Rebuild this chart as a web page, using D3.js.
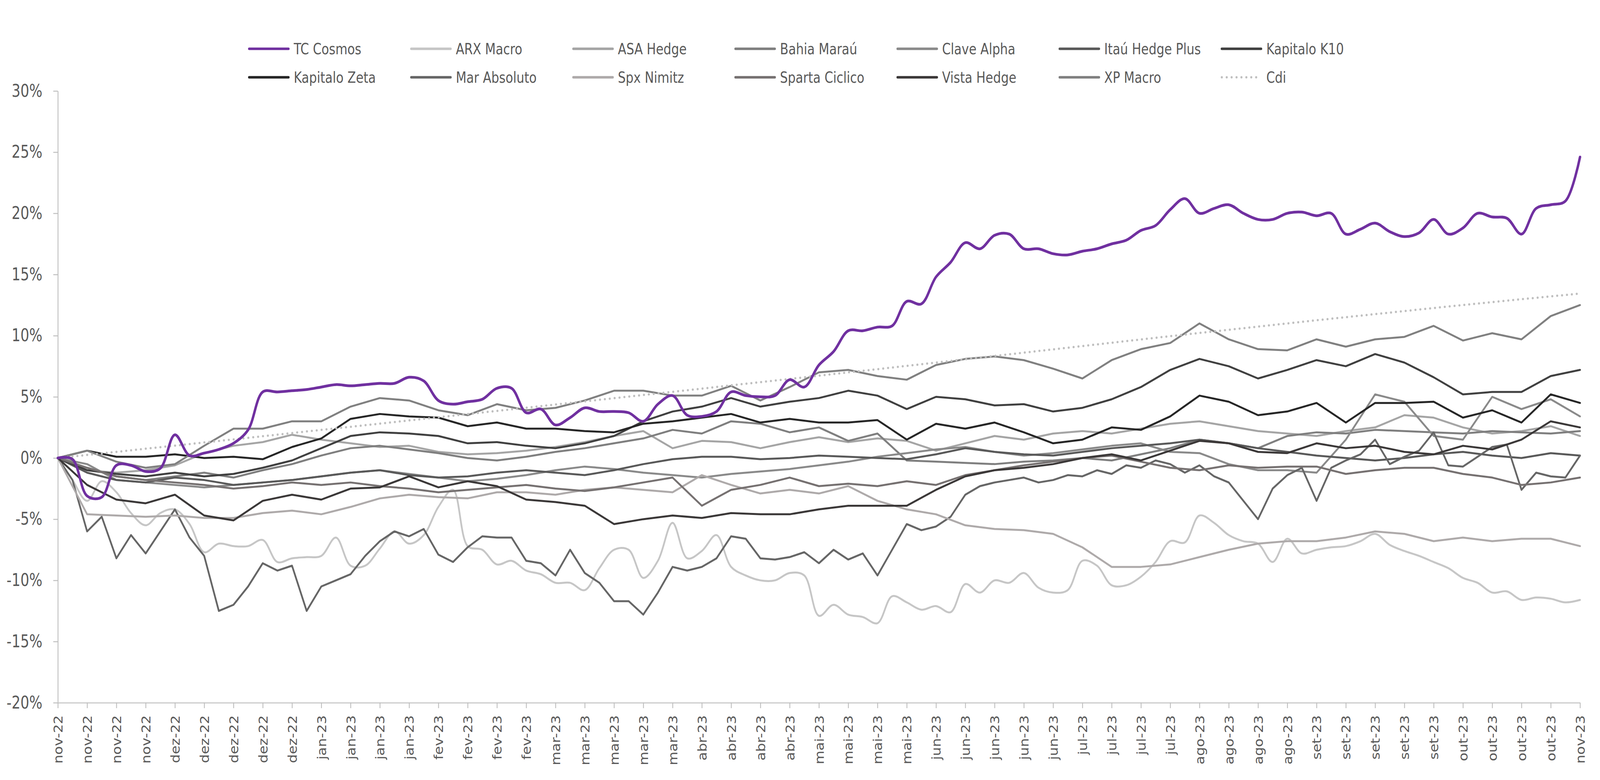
<!DOCTYPE html>
<html>
<head>
<meta charset="utf-8">
<script src="https://cdnjs.cloudflare.com/ajax/libs/d3/7.8.5/d3.min.js"></script>
<style>
  html, body { margin: 0; padding: 0; background: #fff; overflow: hidden; }
  #chart svg { display: block; width: 100vw; height: 100vh; }
</style>
</head>
<body>
<div id="chart"></div>
<script>
// weekly tick labels (category positions 0..52)
const tickLabels = [
  "nov-22","nov-22","nov-22","nov-22",
  "dez-22","dez-22","dez-22","dez-22","dez-22",
  "jan-23","jan-23","jan-23","jan-23",
  "fev-23","fev-23","fev-23","fev-23",
  "mar-23","mar-23","mar-23","mar-23","mar-23",
  "abr-23","abr-23","abr-23","abr-23",
  "mai-23","mai-23","mai-23","mai-23",
  "jun-23","jun-23","jun-23","jun-23","jun-23",
  "jul-23","jul-23","jul-23","jul-23",
  "ago-23","ago-23","ago-23","ago-23",
  "set-23","set-23","set-23","set-23","set-23",
  "out-23","out-23","out-23","out-23",
  "nov-23"
];

const yTicks = [-20, -15, -10, -5, 0, 5, 10, 15, 20, 25, 30];

// read every half week
const tcCosmos = [
  0, -0.1, -3.1, -3.2, -0.6, -0.6, -1.1, -0.85, 1.9, 0.2,
  0.4, 0.7, 1.2, 2.3, 5.4, 5.4, 5.5, 5.6, 5.8, 6.0,
  5.9, 6.0, 6.1, 6.1, 6.6, 6.3, 4.7, 4.4, 4.6, 4.8,
  5.7, 5.7, 3.7, 4.0, 2.7, 3.3, 4.1, 3.8, 3.8, 3.7,
  3.0, 4.4, 5.1, 3.5, 3.4, 3.8, 5.4, 5.1, 5.0, 5.1,
  6.4, 5.8, 7.6, 8.7, 10.4, 10.4, 10.7, 10.8, 12.8, 12.6,
  14.8, 16.0, 17.6, 17.1, 18.2, 18.3, 17.1, 17.1, 16.7, 16.6,
  16.9, 17.1, 17.5, 17.8, 18.6, 19.0, 20.3, 21.2, 20.0, 20.4,
  20.7, 20.0, 19.5, 19.5, 20.0, 20.1, 19.8, 20.0, 18.3, 18.7,
  19.2, 18.5, 18.1, 18.4, 19.5, 18.3, 18.8, 20.0, 19.7, 19.6,
  18.3, 20.4, 20.7, 21.0, 24.6
];
const arxMacro = [
  0, -1.8, -3.5, -1.9, -2.8, -4.5, -5.5, -4.5, -4.2, -5.4,
  -7.7, -7.0, -7.2, -7.2, -6.7, -8.5, -8.2, -8.1, -8.0, -6.5,
  -8.8, -8.8, -7.4, -6.0, -7.0, -6.3, -4.0, -2.6, -7.2, -7.5,
  -8.7, -8.4, -9.2, -9.5, -10.2, -10.2, -10.8, -9.0, -7.5, -7.5,
  -9.8, -8.4, -5.3, -8.2, -7.6, -6.3, -8.9, -9.6, -10.0, -10.0,
  -9.4, -9.6, -12.9, -12.0, -12.8, -13.0, -13.5, -11.3, -11.8, -12.4,
  -12.1, -12.6, -10.3, -11.0, -10.0, -10.2, -9.4, -10.6, -11.0, -10.8,
  -8.4, -8.8, -10.4, -10.4, -9.7, -8.5, -6.8, -6.9, -4.7, -5.3,
  -6.3, -6.8, -7.0, -8.5, -6.6, -7.8, -7.5, -7.3, -7.2, -6.8,
  -6.2, -7.1, -7.6, -8.0, -8.5, -9.0, -9.8, -10.2, -11.0, -10.9,
  -11.6, -11.4, -11.5, -11.8, -11.6
];
const marAbsoluto = [
  0, -1.8, -6.0, -4.8, -8.2, -6.3, -7.8, -6.0, -4.2, -6.5,
  -8.0, -12.5, -12.0, -10.5, -8.6, -9.2, -8.8, -12.5, -10.5, -10.0,
  -9.5, -8.0, -6.8, -6.0, -6.4, -5.8, -7.9, -8.5, -7.3, -6.4,
  -6.5, -6.5, -8.4, -8.6, -9.6, -7.5, -9.4, -10.2, -11.7, -11.7,
  -12.8, -11.0, -8.9, -9.2, -8.9, -8.2, -6.4, -6.6, -8.2, -8.3,
  -8.1, -7.7, -8.6, -7.5, -8.3, -7.8, -9.6, -7.5, -5.4, -5.9,
  -5.6, -4.8, -3.0, -2.3, -2.0, -1.8, -1.6, -2.0, -1.8, -1.4,
  -1.5, -1.0, -1.3, -0.6, -0.8, -0.2, -0.5, -1.2, -0.6, -1.5,
  -2.0, -3.5, -5.0, -2.5, -1.4, -0.8, -3.5, -0.8, -0.2, 0.3,
  1.5, -0.5, 0.1, 0.6, 2.1, -0.6, -0.7, 0.1, 0.9, 1.1,
  -2.6, -1.2, -1.5, -1.6, 0.2
];

// read once a week
const asaHedge = [0,-1.0,-1.2,-1.0,-0.6,0.4,1.0,1.3,1.9,1.5,1.2,0.9,1.0,0.5,0.3,0.4,0.6,0.9,1.3,1.8,2.2,0.8,1.4,1.3,0.8,1.3,1.7,1.3,1.6,1.4,0.6,1.2,1.8,1.5,2.0,2.2,2.0,2.4,2.8,3.0,2.6,2.2,2.0,1.8,2.2,2.5,3.5,3.3,2.5,2.0,2.2,2.6,1.8];
const bahiaMarau = [0,-0.8,-1.5,-1.8,-1.5,-1.2,-1.6,-1.0,-0.5,0.2,0.8,1.0,0.7,0.4,0.0,-0.2,0.1,0.5,0.8,1.2,1.6,2.3,2.0,3.0,2.8,2.1,2.5,1.4,2.0,-0.2,-0.3,-0.4,-0.5,-0.3,-0.2,0.0,-0.2,0.3,0.8,1.5,1.2,0.8,1.8,2.1,2.0,2.3,2.2,2.1,2.0,2.2,2.1,2.0,2.2];
const claveAlpha = [0,-0.5,-1.8,-2.0,-2.2,-2.4,-2.2,-2.0,-1.8,-1.5,-1.2,-1.0,-1.3,-1.6,-1.9,-1.7,-1.4,-1.0,-0.7,-0.9,-1.2,-1.4,-1.6,-1.3,-1.1,-0.9,-0.6,-0.3,0.1,0.4,0.7,0.9,0.5,0.2,0.4,0.7,1.0,1.2,0.5,0.4,-0.5,-1.0,-1.0,-1.2,1.5,5.2,4.6,1.8,1.5,5.0,4.0,4.8,3.4];
const itauHedge = [0,-1.2,-1.8,-2.0,-1.6,-1.8,-2.2,-2.0,-1.8,-1.5,-1.2,-1.0,-1.4,-1.6,-1.5,-1.2,-1.0,-1.2,-1.4,-1.0,-0.5,-0.1,0.1,0.1,-0.1,0.0,0.2,0.1,0.0,-0.1,0.3,0.8,0.5,0.3,0.2,0.5,0.8,1.0,1.2,1.5,1.2,0.8,0.5,0.2,0.0,-0.2,0.0,0.3,0.5,0.2,0.0,0.4,0.2];
const kapitaloK10 = [0,-1.0,-1.3,-1.5,-1.2,-1.5,-1.3,-0.8,-0.2,0.8,1.8,2.1,2.0,1.8,1.2,1.3,1.0,0.8,1.2,1.8,3.0,3.8,4.2,4.9,4.2,4.6,4.9,5.5,5.1,4.0,5.0,4.8,4.3,4.4,3.8,4.1,4.8,5.8,7.2,8.1,7.5,6.5,7.2,8.0,7.5,8.5,7.8,6.6,5.2,5.4,5.4,6.7,7.2];
const kapitaloZeta = [0,0.6,0.1,0.1,0.3,0.0,0.1,-0.1,0.9,1.6,3.2,3.6,3.4,3.3,2.6,2.9,2.4,2.4,2.2,2.1,2.8,3.0,3.3,3.6,2.9,3.2,2.9,2.9,3.1,1.5,2.8,2.4,2.9,2.1,1.2,1.5,2.5,2.3,3.4,5.1,4.6,3.5,3.8,4.5,2.9,4.5,4.5,4.6,3.3,3.9,2.9,5.2,4.5];
const spxNimitz = [0,-4.6,-4.7,-4.8,-4.7,-4.9,-4.9,-4.5,-4.3,-4.6,-4.0,-3.3,-3.0,-3.2,-3.3,-2.8,-2.8,-3.0,-2.6,-2.4,-2.6,-2.8,-1.4,-2.2,-2.9,-2.6,-2.9,-2.3,-3.5,-4.2,-4.6,-5.5,-5.8,-5.9,-6.2,-7.3,-8.9,-8.9,-8.7,-8.1,-7.5,-7.0,-6.8,-6.8,-6.5,-6.0,-6.2,-6.8,-6.5,-6.8,-6.6,-6.6,-7.2];
const spartaCiclico = [0,-0.8,-1.5,-1.8,-2.0,-2.2,-2.5,-2.3,-2.0,-2.2,-2.0,-2.3,-2.5,-2.8,-2.6,-2.4,-2.2,-2.5,-2.7,-2.4,-2.0,-1.6,-3.9,-2.6,-2.2,-1.6,-2.3,-2.1,-2.3,-1.9,-2.2,-1.4,-1.0,-0.6,-0.3,0.0,0.2,-0.3,-0.8,-1.0,-0.6,-0.8,-0.7,-0.7,-1.3,-1.0,-0.8,-0.8,-1.3,-1.6,-2.2,-2.0,-1.6];
const vistaHedge = [0,-2.2,-3.4,-3.7,-3.0,-4.7,-5.1,-3.5,-3.0,-3.4,-2.5,-2.4,-1.5,-2.4,-1.9,-2.3,-3.4,-3.6,-3.9,-5.4,-5.0,-4.7,-4.9,-4.5,-4.6,-4.6,-4.2,-3.9,-3.9,-3.9,-2.6,-1.5,-1.0,-0.8,-0.5,0.0,0.3,-0.2,0.6,1.4,1.2,0.5,0.4,1.2,0.8,1.0,0.5,0.3,1.0,0.7,1.5,3.0,2.5];
const xpMacro = [0,0.6,-0.3,-0.8,-0.5,1.0,2.4,2.4,3.0,3.0,4.2,4.9,4.7,3.9,3.5,4.4,3.9,4.1,4.7,5.5,5.5,5.1,5.1,5.9,4.7,5.8,7.0,7.2,6.7,6.4,7.6,8.1,8.3,8.0,7.3,6.5,8.0,8.9,9.4,11.0,9.7,8.9,8.8,9.7,9.1,9.7,9.9,10.8,9.6,10.2,9.7,11.6,12.5];
const cdi = [0,0.25,0.5,0.76,1.01,1.27,1.52,1.78,2.04,2.3,2.55,2.81,3.07,3.33,3.59,3.85,4.11,4.37,4.63,4.89,5.15,5.41,5.67,5.94,6.2,6.46,6.73,7.0,7.26,7.53,7.8,8.07,8.34,8.61,8.88,9.15,9.42,9.69,9.96,10.22,10.48,10.74,11.0,11.26,11.51,11.76,12.01,12.26,12.5,12.74,12.98,13.21,13.44];

const series = [
  { name: "TC Cosmos",       values: tcCosmos,      step: 0.5, color: "#7030A0", width: 7, smooth: true },
  { name: "ARX Macro",       values: arxMacro,      step: 0.5, color: "#C6C6C6", width: 5, smooth: true },
  { name: "ASA Hedge",       values: asaHedge,      step: 1, color: "#A5A5A5", width: 5 },
  { name: "Bahia Maraú",     values: bahiaMarau,    step: 1, color: "#7F7F7F", width: 5 },
  { name: "Clave Alpha",     values: claveAlpha,    step: 1, color: "#8A8A8A", width: 5 },
  { name: "Itaú Hedge Plus", values: itauHedge,     step: 1, color: "#595959", width: 5 },
  { name: "Kapitalo K10",    values: kapitaloK10,   step: 1, color: "#404040", width: 5 },
  { name: "Kapitalo Zeta",   values: kapitaloZeta,  step: 1, color: "#262626", width: 5 },
  { name: "Mar Absoluto",    values: marAbsoluto,   step: 0.5, color: "#666666", width: 5 },
  { name: "Spx Nimitz",      values: spxNimitz,     step: 1, color: "#AEAAAA", width: 5 },
  { name: "Sparta Ciclico",  values: spartaCiclico, step: 1, color: "#767171", width: 5 },
  { name: "Vista Hedge",     values: vistaHedge,    step: 1, color: "#3B3838", width: 5 },
  { name: "XP Macro",        values: xpMacro,       step: 1, color: "#808080", width: 5 },
  { name: "Cdi",             values: cdi,           step: 1, color: "#BFBFBF", width: 6, dotted: true }
];

const W = 4565, H = 1998;
const margin = { top: 233, right: 57, bottom: 198, left: 165 };
const textFont = "'Liberation Sans Narrow', 'DejaVu Sans Condensed', 'Liberation Sans', sans-serif";

// the drawing is laid out in a 4565x1998 frame and stretched to the window
const svg = d3.select("#chart").append("svg")
  .attr("viewBox", "0 0 " + W + " " + H)
  .attr("preserveAspectRatio", "none")
  .style("font-family", textFont);

const x = d3.scaleLinear()
  .domain([0, tickLabels.length - 1])
  .range([margin.left, W - margin.right]);

const y = d3.scaleLinear()
  .domain([-20, 30])
  .range([H - margin.bottom, margin.top]);

// Y axis
const yAxis = svg.append("g")
  .attr("transform", "translate(" + margin.left + ",0)")
  .call(d3.axisLeft(y).tickValues(yTicks).tickFormat(d => d + "%").tickSize(13).tickSizeOuter(0).tickPadding(31));
yAxis.select(".domain").attr("stroke", "#BFBFBF").attr("stroke-width", 2.5);
yAxis.selectAll(".tick line").attr("stroke", "#BFBFBF").attr("stroke-width", 2.5);
yAxis.selectAll(".tick text")
  .attr("fill", "#595959")
  .style("font-size", "44px")
  .style("font-family", textFont);

// X axis
const xAxis = svg.append("g")
  .attr("transform", "translate(0," + y(-20) + ")")
  .call(d3.axisBottom(x).tickValues(d3.range(tickLabels.length)).tickFormat(i => tickLabels[i]).tickSize(14).tickSizeOuter(0));
xAxis.select(".domain").attr("stroke", "#D0D0D0").attr("stroke-width", 3.5);
xAxis.selectAll(".tick line").attr("stroke", "#BFBFBF").attr("stroke-width", 2.5);
xAxis.selectAll(".tick text")
  .attr("fill", "#595959")
  .attr("transform", "rotate(-90)")
  .attr("text-anchor", "end")
  .attr("x", -32)
  .attr("y", 0)
  .attr("dy", "0.36em")
  .style("font-size", "36px")
  .style("font-family", "'DejaVu Sans', sans-serif");

// Lines
const plot = svg.append("g");
const drawOrder = series.slice(1).concat([series[0]]);
drawOrder.forEach(s => {
  const line = d3.line()
    .x((d, i) => x(i * s.step))
    .y(d => y(d))
    .curve(s.smooth ? d3.curveCatmullRom.alpha(0.5) : d3.curveLinear);
  const p = plot.append("path")
    .datum(s.values)
    .attr("fill", "none")
    .attr("stroke", s.color)
    .attr("stroke-width", s.width)
    .attr("stroke-linejoin", "round")
    .attr("stroke-linecap", "round")
    .attr("d", line);
  if (s.dotted) p.attr("stroke-dasharray", "0 14");
});

// Legend: 2 rows x 7 columns
const legend = svg.append("g");
series.forEach((s, i) => {
  const col = i % 7, row = Math.floor(i / 7);
  const lx = 708 + col * 462.5;
  const ly = 125 + row * 73;
  const g = legend.append("g").attr("transform", "translate(" + lx + "," + ly + ")");
  const l = g.append("line")
    .attr("x1", 3).attr("x2", 115)
    .attr("y1", 0).attr("y2", 0)
    .attr("stroke", s.color)
    .attr("stroke-width", 6.5)
    .attr("stroke-linecap", "round");
  if (s.dotted) l.attr("stroke-dasharray", "0 14").attr("stroke-width", 6);
  g.append("text")
    .attr("x", 130)
    .attr("y", 0)
    .attr("dy", "0.35em")
    .attr("fill", "#595959")
    .style("font-size", "39px")
    .text(s.name);
});
</script>
</body>
</html>
